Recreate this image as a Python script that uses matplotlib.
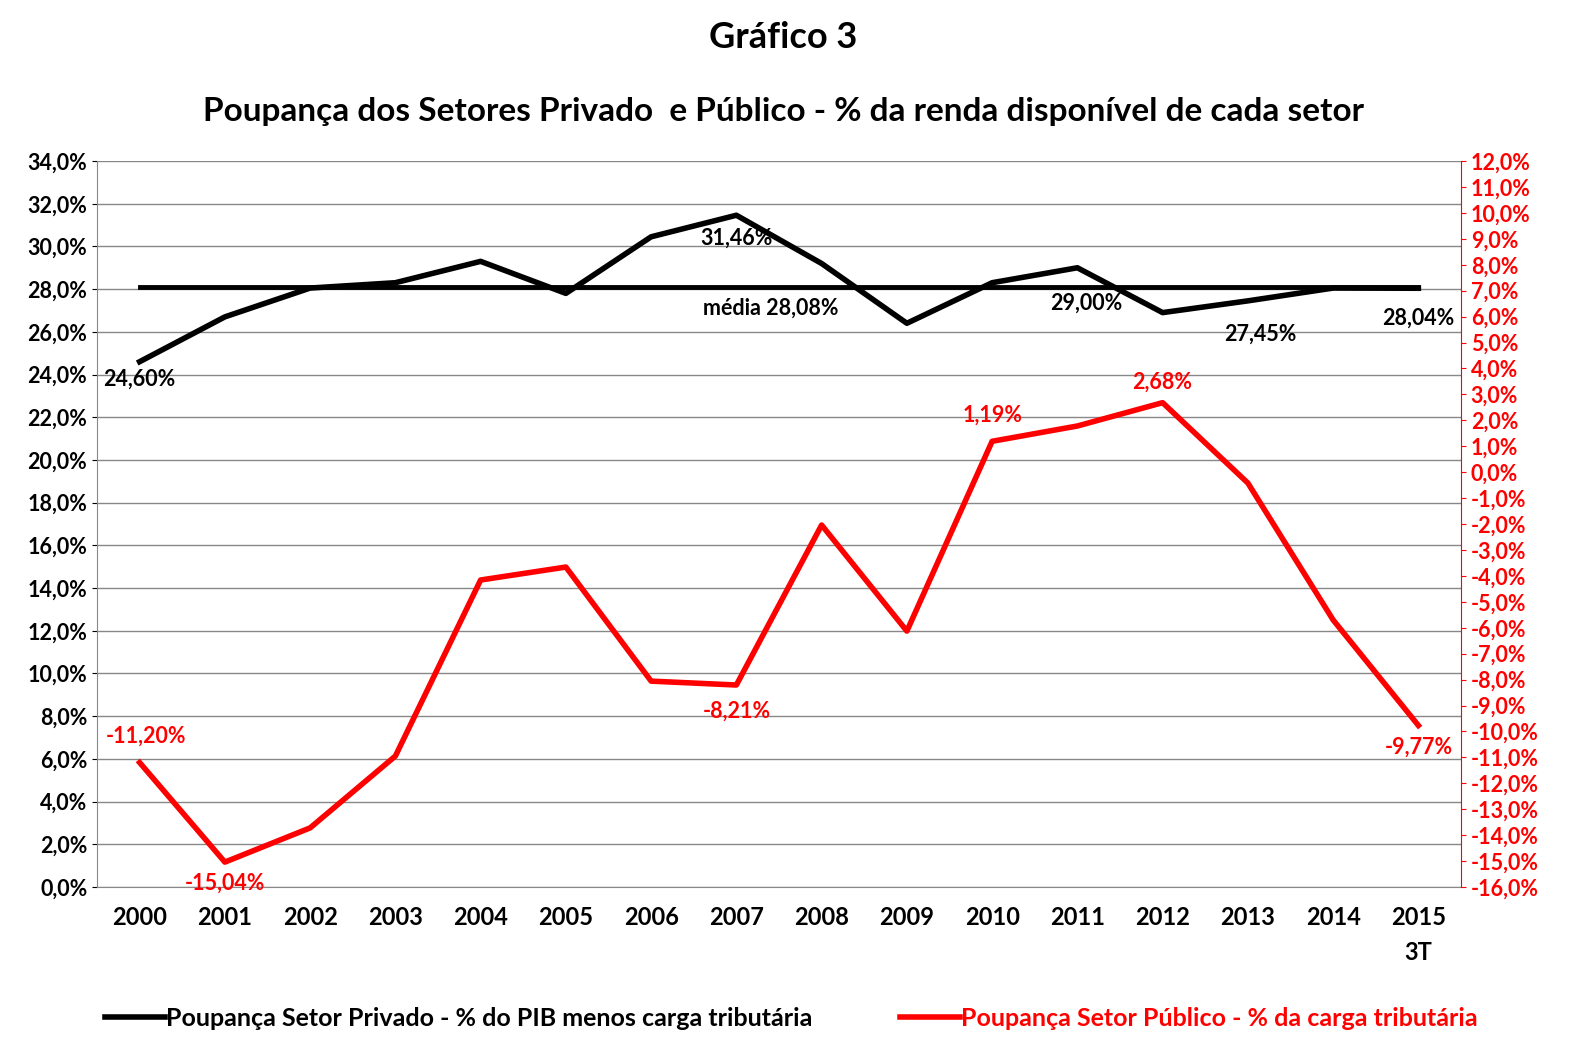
import matplotlib
matplotlib.use("Agg")
import matplotlib.pyplot as plt

plt.rcParams['font.family'] = ['Lato', 'DejaVu Sans']
plt.rcParams['font.weight'] = 'bold'

years = ["2000","2001","2002","2003","2004","2005","2006","2007","2008","2009","2010","2011","2012","2013","2014","2015\n3T"]
privado = [24.60,26.7,28.05,28.3,29.3,27.8,30.45,31.46,29.2,26.4,28.3,29.00,26.9,27.45,28.05,28.04]
publico = [-11.20,-15.04,-13.72,-10.95,-4.16,-3.66,-8.06,-8.21,-2.04,-6.13,1.19,1.78,2.68,-0.42,-5.7,-9.77]
media = 28.08

fig = plt.figure(figsize=(15.83,10.59), dpi=100)
ax = fig.add_axes([97/1583, 1-887/1059, (1461-97)/1583, (887-161)/1059])
x = list(range(len(years)))
ax.set_xlim(-0.5, len(years)-0.5)
ax.set_ylim(0, 34)
ax.set_yticks([i*2 for i in range(18)])
ax.set_yticklabels([f"{i*2:.1f}%".replace('.', ',') for i in range(18)], fontsize=15.5)
ax.grid(axis='y', color='#888888', lw=1)
ax.set_axisbelow(True)
ax.set_xticks(x)
ax.set_xticklabels(years, fontsize=17, va='top', linespacing=1.6)
ax.tick_params(axis='x', length=0, pad=14)
for s in ['top','right']:
    ax.spines[s].set_visible(False)
ax.spines['left'].set_color('#888888'); ax.spines['bottom'].set_color('#888888')

lp, = ax.plot(x, privado, color='black', lw=4, label='Poupança Setor Privado - % do PIB menos carga tributária')
ax.plot([x[0], x[-1]], [media, media], color='black', lw=3.5)

ax2 = ax.twinx()
ax2.set_ylim(-16, 12)
ax2.set_yticks(range(-16, 13))
ax2.set_yticklabels([f"{v:.1f}%".replace('.', ',') for v in range(-16, 13)], fontsize=15.5, color='red')
ax2.tick_params(axis='y', colors='red')
ax2.spines['right'].set_color('red')
for s in ['top','left','bottom']:
    ax2.spines[s].set_visible(False)
lq, = ax2.plot(x, publico, color='red', lw=4, label='Poupança Setor Público - % da carga tributária')

fs = 15.5
fmt = lambda v: f"{v:.2f}%".replace('.', ',')
ax.text(0, privado[0]-0.35, fmt(privado[0]), fontsize=fs, ha='center', va='top')
ax.text(7, privado[7]-0.6, fmt(privado[7]), fontsize=fs, ha='center', va='top')
ax.text(11.1, privado[11]-1.15, fmt(privado[11]), fontsize=fs, ha='center', va='top')
ax.text(13.15, privado[13]-1.05, fmt(privado[13]), fontsize=fs, ha='center', va='top')
ax.text(15.0, privado[15]-0.9, fmt(privado[15]), fontsize=fs, ha='center', va='top')
ax.text(7.4, media-0.5, f"média {media:.2f}%".replace('.', ','), fontsize=fs, ha='center', va='top')
for i, dx, dy, va in [(0, 0.08, 0.6, 'bottom'), (1, 0, -0.4, 'top'), (7, 0, -0.6, 'top'), (10, 0, 0.6, 'bottom'),
                      (12, 0, 0.4, 'bottom'), (15, 0.0, -0.45, 'top')]:
    ax2.text(i+dx, publico[i]+dy, fmt(publico[i]), fontsize=fs, color='red', ha='center', va=va)

fig.text(0.495, 1-38/1059, "Gráfico 3", fontsize=26, ha='center', va='center')
fig.text(0.495, 1-111/1059, "Poupança dos Setores Privado  e Público - % da renda disponível de cada setor", fontsize=24, ha='center', va='center')
leg = fig.legend(handles=[lp, lq], loc='center', bbox_to_anchor=(0.5, 1-1018/1059), ncol=2, frameon=False,
                 fontsize=18, handlelength=2.4, columnspacing=3.5, handletextpad=0.05)
leg.get_texts()[1].set_color('red')
fig.savefig("out.png", dpi=100)
